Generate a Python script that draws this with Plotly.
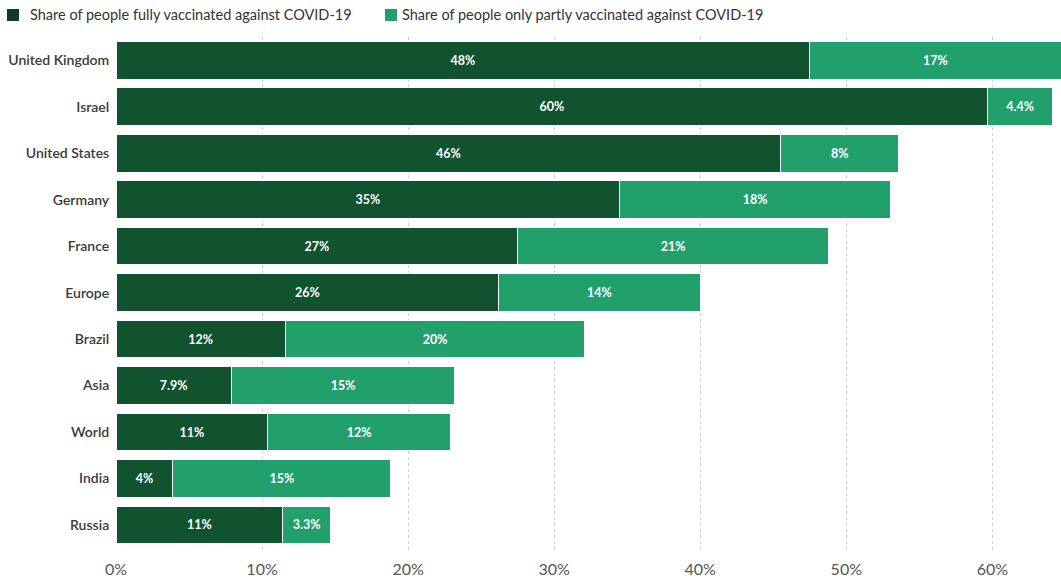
import plotly.graph_objects as go

countries = ["United Kingdom", "Israel", "United States", "Germany", "France", "Europe",
             "Brazil", "Asia", "World", "India", "Russia"]
fully = [47.5, 59.7, 45.5, 34.5, 27.5, 26.2, 11.6, 7.9, 10.4, 3.9, 11.4]
partly = [17.2, 4.4, 8.1, 18.5, 21.3, 13.8, 20.5, 15.3, 12.5, 14.9, 3.3]
fully_labels = ["48%", "60%", "46%", "35%", "27%", "26%", "12%", "7.9%", "11%", "4%", "11%"]
partly_labels = ["17%", "4.4%", "8%", "18%", "21%", "14%", "20%", "15%", "12%", "15%", "3.3%"]
series_names = ["Share of people fully vaccinated against COVID-19",
                "Share of people only partly vaccinated against COVID-19"]
x_ticks = [0, 10, 20, 30, 40, 50, 60]
x_tick_labels = ["0%", "10%", "20%", "30%", "40%", "50%", "60%"]

DARK = "#11522f"
LIGHT = "#21a06b"
LEGEND_DARK = "#0c3d1f"
FONT = "Lato"
W, H = 1061, 579
ML, MT, MB = 116, 37, 28
PW, PH = W - ML, H - MT - MB

fig = go.Figure()
for vals, labels, name, col in [(fully, fully_labels, series_names[0], DARK),
                                (partly, partly_labels, series_names[1], LIGHT)]:
    fig.add_trace(go.Bar(
        y=countries, x=vals, orientation="h", name=name,
        marker=dict(color=col, line=dict(color="white", width=1)),
        text=labels, textposition="inside", insidetextanchor="middle", textangle=0,
        textfont=dict(family=FONT, size=12.5, color="white", weight="bold"), constraintext="none",
        hoverinfo="skip", showlegend=False,
    ))

# custom legend (squares + text) in container pixels
legend_items = [(series_names[0], LEGEND_DARK, 7, 28), (series_names[1], LIGHT, 385, 400)]
for name, col, sx, tx in legend_items:
    fig.add_shape(type="rect", xref="paper", yref="paper",
                  x0=(sx - ML) / PW, x1=(sx + 12 - ML) / PW,
                  y0=1 + (MT - 21) / PH, y1=1 + (MT - 9) / PH,
                  fillcolor=col, line=dict(width=0))
    fig.add_annotation(text=name, xref="paper", yref="paper",
                       x=(tx - ML) / PW, y=1 + (MT - 15) / PH,
                       xanchor="left", yanchor="middle", showarrow=False,
                       font=dict(family=FONT, size=14.5, color="#333333"))

fig.update_layout(
    width=W, height=H,
    barmode="stack", bargap=0.19,
    plot_bgcolor="white", paper_bgcolor="white",
    margin=dict(l=ML, r=0, t=MT, b=MB, autoexpand=False),
    font=dict(family=FONT, color="#333333"),
    showlegend=False,
    xaxis=dict(
        range=[0, 64.7], tickvals=x_ticks, ticktext=x_tick_labels,
        showgrid=True, gridcolor="#cccccc", griddash="dot", gridwidth=1,
        zeroline=False, showline=False, automargin=False,
        ticks="outside", ticklen=4, tickcolor="rgba(0,0,0,0)",
        tickfont=dict(family=FONT, size=16, color="#555555"),
        fixedrange=True,
    ),
    yaxis=dict(
        categoryorder="array", categoryarray=countries,
        range=[10.56, -0.5], showgrid=False, zeroline=False, showline=False, automargin=False,
        ticks="outside", ticklen=3, tickcolor="rgba(0,0,0,0)",
        tickfont=dict(family=FONT, size=14, color="#3a3a3a", weight=600),
        fixedrange=True,
    ),
)

fig.write_html("out.html")
